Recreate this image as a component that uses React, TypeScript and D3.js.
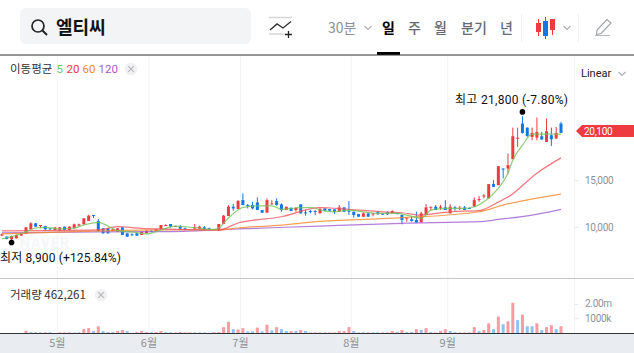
import React from "react";
import * as d3 from "d3";

const stockName = "엘티씨";
const periodTabs = [
  { t: "일", x: 382 }, { t: "주", x: 408 }, { t: "월", x: 434 }, { t: "분기", x: 461 }, { t: "년", x: 500 },
];
const monthLabels = ["5월", "6월", "7월", "8월", "9월"];
const monthStart = [12, 31, 50, 73, 93];
const priceTicks = [15000, 10000];
const lastPrice = 20100;
const volTicks = [{ v: 2000, t: "2.00m" }, { v: 1000, t: "1000k" }];

const opens = [
  9090, 8985, 8705, 8810, 9090, 9265, 9755, 10385, 10140, 10100, 9860, 9685, 9615, 10035, 9685, 9860, 10140, 10280, 10630, 11260,
  10630, 9860, 9860, 9580, 9510, 9965, 9335, 9230, 9335, 9160, 9335, 9600, 9545, 9790, 10140, 10315, 10070, 10035, 9860, 9790,
  9825, 9825, 9965, 9860, 9685, 9615, 10315, 11155, 12135, 11890, 12835, 12310, 12310, 12590, 11785, 11505, 12380, 12730, 12380, 11785,
  12030, 11785, 12380, 11540, 11680, 11680, 11435, 11960, 11890, 11855, 11610, 12065, 11715, 11610, 11365, 11085, 11435, 11330, 11540, 11400,
  11540, 11435, 11450, 11260, 10875, 10805, 10735, 10490, 11260, 12065, 12135, 12030, 12065, 11435, 12065, 11960, 12065, 12000, 12135, 12835,
  13250, 13010, 14515, 14410, 16160, 16160, 17140, 19310, 20885, 20465, 19485, 19415, 19555, 18960, 19660, 19310, 20885,
];
const closes = [
  9230, 8740, 9055, 9160, 9335, 9965, 10385, 10035, 10210, 9755, 9800, 9965, 9965, 9685, 10035, 10280, 10280, 10910, 11190, 11150,
  9580, 9335, 9335, 9755, 9860, 9160, 8985, 9160, 9090, 9510, 9615, 9500, 9755, 10210, 10210, 10035, 10105, 9825, 9685, 9685,
  9965, 10035, 9685, 9790, 9790, 10315, 11190, 12135, 11960, 12730, 12310, 12200, 11960, 11785, 11505, 12835, 12485, 12310, 11785, 12135,
  11680, 12030, 11435, 11435, 11610, 11610, 11900, 11715, 11715, 11610, 12065, 11610, 11610, 11260, 11085, 11435, 11085, 11435, 11330, 11330,
  11330, 11680, 11400, 10735, 10980, 10630, 10455, 11435, 12065, 12135, 11785, 12135, 11785, 12135, 11960, 12030, 11785, 11950, 12835, 12940,
  13315, 14515, 14235, 16405, 16055, 16510, 19555, 19400, 19905, 19590, 19905, 20010, 19205, 20080, 19240, 19905, 19905,
];
const highs = [
  9300, 9020, 9100, 9200, 9370, 10000, 10500, 10420, 10210, 10140, 9860, 10000, 10000, 10035, 10070, 10350, 10350, 10950, 11300, 11260,
  10840, 9900, 9900, 9790, 9900, 9965, 9335, 9335, 9370, 9510, 9650, 9650, 9790, 10210, 10280, 10315, 10140, 10210, 9930, 9790,
  10315, 10140, 10105, 9930, 9790, 10315, 11260, 12310, 12415, 12835, 13535, 12415, 12660, 13115, 11785, 13010, 12835, 13010, 12485, 12135,
  12030, 12030, 12380, 11785, 11785, 11785, 12100, 11960, 11890, 11855, 12310, 12065, 12730, 11610, 11365, 11540, 11435, 11435, 11680, 11435,
  11610, 11750, 11470, 11330, 10980, 11085, 11610, 11610, 12415, 12135, 12310, 12310, 12835, 12415, 12205, 12205, 12205, 12050, 13115, 13255,
  13465, 14515, 14935, 16405, 16160, 17735, 20465, 20465, 21655, 20465, 20465, 21515, 20010, 21410, 20465, 20535, 21060,
];
const lows = [
  9050, 8700, 8565, 8780, 9090, 9265, 9755, 10000, 9860, 9650, 9650, 9650, 9580, 9650, 9650, 9860, 10140, 10280, 10630, 10950,
  9550, 9300, 9300, 9545, 9510, 9160, 8950, 9090, 9055, 9160, 9335, 9450, 9545, 9685, 10140, 9930, 10035, 9755, 9650, 9650,
  9790, 9790, 9650, 9755, 9650, 9580, 10315, 11155, 11715, 11890, 12310, 11960, 11855, 11785, 11470, 11505, 12380, 12240, 11610, 11785,
  11680, 11610, 11435, 11190, 11435, 11260, 11435, 11715, 11680, 11365, 11610, 11575, 11260, 10980, 11085, 11085, 11085, 11120, 11330, 11260,
  11260, 11435, 11380, 10280, 10560, 10560, 10455, 10490, 11260, 11715, 11785, 11785, 11785, 11435, 11715, 11785, 11785, 11900, 12135, 12660,
  13010, 13010, 14235, 14410, 15110, 15635, 17140, 18435, 19835, 19485, 19135, 19135, 19205, 18960, 18540, 19310, 19905,
];

const volumes = [
  0, 0, 0, 0, 0, 150, 50, 50, 50, 50, 50, 0, 40, 40, 40, 40, 50, 260, 330, 130,
  460, 130, 60, 60, 130, 200, 130, 20, 60, 130, 60, 50, 60, 130, 60, 50, 40, 60, 40, 40,
  40, 40, 40, 10, 60, 60, 400, 770, 260, 240, 330, 110, 110, 370, 110, 570, 180, 400, 260, 130,
  130, 130, 200, 130, 40, 40, 40, 40, 40, 40, 130, 130, 400, 130, 40, 40, 40, 40, 40, 40,
  40, 130, 60, 200, 60, 60, 260, 200, 330, 60, 40, 130, 260, 130, 60, 40, 40, 40, 400, 130,
  200, 660, 260, 1120, 600, 800, 2060, 880, 1260, 460, 460, 660, 200, 400, 530, 260, 462,
];
const volumeUp = [
  1, 1, 1, 1, 1, 1, 0, 0, 0, 1, 0, 1, 1, 1, 1, 0, 0, 1, 1, 0,
  1, 0, 0, 0, 1, 1, 0, 0, 1, 1, 1, 0, 1, 1, 0, 0, 1, 1, 1, 1,
  0, 0, 0, 1, 1, 1, 1, 1, 0, 1, 1, 0, 0, 1, 0, 1, 0, 1, 0, 0,
  1, 0, 1, 0, 0, 1, 1, 0, 1, 1, 1, 1, 1, 0, 0, 0, 1, 0, 0, 1,
  1, 1, 0, 1, 0, 0, 1, 0, 1, 0, 1, 1, 1, 0, 0, 1, 1, 1, 1, 0,
  1, 1, 0, 1, 0, 1, 1, 0, 1, 0, 0, 1, 0, 1, 1, 0, 1,
];

const ma5Idx = [0, 2, 5, 7, 9, 12, 15, 17, 20, 22, 24, 27, 30, 33, 36, 40, 44, 45, 47, 49, 50, 53, 56, 58, 61, 64, 67, 69, 72, 75, 78, 82, 84, 87, 89, 92, 96, 98, 101, 103, 105, 106, 108, 110, 112, 116];
const ma5Val = [8740, 8980, 9505, 9895, 9970, 9790, 9895, 10210, 10495, 10105, 9610, 9475, 9265, 9685, 10105, 9925, 9760, 9895, 10945, 11785, 12070, 12235, 12235, 11860, 12000, 12070, 11680, 11600, 11785, 11600, 11440, 11440, 11260, 10915, 11785, 11965, 11965, 12130, 13045, 14095, 15670, 17035, 18610, 19765, 19765, 19765];
const ma20Idx = [0, 10, 20, 24, 29, 33, 45, 49, 58, 66, 72, 79, 83, 87, 89, 93, 99, 103, 105, 111, 116];
const ma20Val = [9580, 9610, 9685, 10030, 9865, 9790, 9685, 10420, 11080, 12050, 11860, 11605, 11500, 11260, 11365, 11605, 11730, 12625, 13150, 15670, 17275];
const ma60Idx = [0, 20, 33, 45, 49, 58, 66, 83, 99, 104, 116];
const ma60Val = [9265, 9580, 9685, 9685, 9895, 10210, 10580, 10975, 11605, 12310, 13465];
const ma120Idx = [0, 20, 33, 49, 66, 83, 99, 103, 110, 116];
const ma120Val = [9370, 9475, 9505, 9790, 10105, 10390, 10555, 10790, 11260, 11860];

const maxIndex = 108;
const minIndex = 2;

const RED = "#ee3b40";
const BLUE = "#1177e8";
const KR = "'Noto Sans CJK KR','Noto Sans',sans-serif";
const NUM = "Roboto,'Noto Sans CJK KR',sans-serif";
const GRAY = "#8c9098";

const x = d3.scaleLinear().domain([0, 116]).range([1.9, 561]);
const y = d3.scaleLinear().domain([10000, 20000]).range([227, 132]);
const yVol = d3.scaleLinear().domain([0, 2000]).range([333, 303.7]);

const maLine = (idx: number[], val: number[]) =>
  d3.line<number>().x((d) => x(d)).y((_, i) => y(val[i])).curve(d3.curveMonotoneX)(idx) ?? "";

const maSeries = [
  { idx: ma120Idx, val: ma120Val, c: "#a05fd0" },
  { idx: ma60Idx, val: ma60Val, c: "#f58a2a" },
  { idx: ma20Idx, val: ma20Val, c: "#f0545c" },
  { idx: ma5Idx, val: ma5Val, c: "#72c35a" },
];

const Chevron = ({ cx, cy }: { cx: number; cy: number }) => (
  <path d={`M${cx - 3.5} ${cy - 2}L${cx} ${cy + 1.5}L${cx + 3.5} ${cy - 2}`} fill="none" stroke="#a9adb3" strokeWidth={1.1} />
);
const Close = ({ cx, cy }: { cx: number; cy: number }) => (
  <g>
    <circle cx={cx} cy={cy} r={6.3} fill="#f1f1f2" />
    <path d={`M${cx - 2.8} ${cy - 2.8}L${cx + 2.8} ${cy + 2.8}M${cx + 2.8} ${cy - 2.8}L${cx - 2.8} ${cy + 2.8}`} stroke="#b5b7bb" strokeWidth={1.2} />
  </g>
);

export default function App() {
  return (
    <svg width={634} height={353} style={{ position: "absolute", left: 0, top: 0, background: "#fff" }}>
      {/* header */}
      <rect x={20} y={8} width={231} height={36} rx={6} fill="#f3f4f6" />
      <circle cx={38} cy={26} r={6} fill="none" stroke="#222" strokeWidth={1.7} />
      <path d="M42.5 30.5L47 35" stroke="#222" strokeWidth={1.9} />
      <text x={56} y={34} fontFamily={KR} fontWeight={700} fontSize={18} fill="#111">{stockName}</text>
      <path d="M269 17.5H292M269 34H285" stroke="#d5d6d8" strokeWidth={1.4} />
      <path d="M270 30L277 24L283 28L291 21.5" fill="none" stroke="#333" strokeWidth={1.4} />
      <path d="M285 34.5H292M288.5 31V38" stroke="#222" strokeWidth={1.3} />
      <text x={328} y={33} fontFamily={KR} fontSize={14} fill={GRAY}>30분</text>
      <Chevron cx={368} cy={28} />
      {periodTabs.map((p, i) => (
        <text key={p.t} x={p.x} y={33} fontFamily={KR} fontSize={14} fontWeight={i === 0 ? 700 : 500} fill={i === 0 ? "#000" : "#666b72"}>{p.t}</text>
      ))}
      <rect x={377} y={52} width={23} height={3} fill="#000" />
      <path d="M521.5 14V42M578.5 14V42" stroke="#f0f1f3" />
      <path d="M538.5 19V36" stroke={RED} /><rect x={536} y={23} width={5} height={9} fill={RED} />
      <path d="M545.5 17V39" stroke={BLUE} /><rect x={543} y={21} width={5} height={15} fill={BLUE} />
      <path d="M552.5 19V35" stroke={RED} /><rect x={550} y={19} width={5} height={11} fill={RED} />
      <Chevron cx={567} cy={28} />
      <path d="M597 30L607 19.5L611 23L601 33.5L596.5 34.5Z" fill="none" stroke="#9da1a7" strokeWidth={1.1} />
      <path d="M595 35.5H610" stroke="#b6b9bd" strokeWidth={1.1} />
      <path d="M0 55H634" stroke="#333" strokeWidth={1.2} />

      {/* grid */}
      {monthStart.map((m) => (
        <path key={m} d={`M${x(m - 0.5)} 56V333`} stroke="#f0f2f6" />
      ))}
      <path d="M574.5 56V333" stroke="#f0f2f6" />
      {[...priceTicks.map((t) => y(t)), ...volTicks.map((t) => yVol(t.v))].map((p) => (
        <path key={p} d={`M575 ${Math.round(p) + 0.5}H578`} stroke="#e6e8ec" />
      ))}
      <text x={20} y={248} fontFamily={NUM} fontWeight={700} fontSize={14} letterSpacing={1} fill="#f5f6f8">NAVER</text>

      {/* volume */}
      {volumes.map((v, i) =>
        v > 0 ? (
          <rect key={i} x={x(i) - 1.5} y={yVol(v)} width={3} height={333 - yVol(v)} fill={volumeUp[i] ? "#f79ca2" : "#90c0f5"} />
        ) : null
      )}

      {/* candles */}
      {opens.map((o, i) => {
        const c = closes[i];
        const col = c >= o ? RED : BLUE;
        const top = y(Math.max(o, c));
        const h = Math.max(1, Math.abs(y(o) - y(c)));
        return (
          <g key={i}>
            <line x1={x(i)} x2={x(i)} y1={y(highs[i])} y2={y(lows[i])} stroke={col} strokeWidth={1} />
            <rect x={x(i) - 1.5} y={top} width={3} height={h} fill={col} />
          </g>
        );
      })}
      {maSeries.map((s) => (
        <path key={s.c} d={maLine(s.idx, s.val)} fill="none" stroke={s.c} strokeWidth={1.25} strokeOpacity={0.8} />
      ))}

      {/* extremes */}
      <circle cx={x(maxIndex)} cy={y(21800) - 3} r={2.8} fill="#000" />
      <circle cx={x(minIndex)} cy={y(8900) + 5} r={2.8} fill="#000" />
      <text x={455} y={104} fontFamily={NUM} fontSize={12} letterSpacing={0.3} fill="#111">최고 21,800 (-7.80%)</text>
      <text x={0} y={262} fontFamily={NUM} fontSize={12} letterSpacing={0.15} fill="#111">최저 8,900 (+125.84%)</text>

      {/* legend */}
      <text x={10} y={73} fontFamily={KR} fontSize={11.5} fill="#333">이동평균</text>
      <text x={56.5} y={73} fontFamily={NUM} fontSize={11.5} fill="#72c35a">5</text>
      <text x={66.5} y={73} fontFamily={NUM} fontSize={11.5} fill={RED}>20</text>
      <text x={82.5} y={73} fontFamily={NUM} fontSize={11.5} fill="#f58a2a">60</text>
      <text x={98.5} y={73} fontFamily={NUM} fontSize={11.5} fill="#a05fd0">120</text>
      <Close cx={131} cy={69} />

      {/* right axis */}
      <text x={581} y={77} fontFamily={NUM} fontSize={11} fill="#222">Linear</text>
      <Chevron cx={622} cy={74} />
      <path d={`M576 ${y(lastPrice)}L582 ${y(lastPrice) - 6}H634V${y(lastPrice) + 6}H582Z`} fill={RED} />
      <text x={584} y={y(lastPrice) + 3.5} fontFamily={NUM} fontSize={10} letterSpacing={-0.3} fill="#fff">{d3.format(",")(lastPrice)}</text>
      {priceTicks.map((t) => (
        <text key={t} x={585} y={y(t) + 4} fontFamily={NUM} fontSize={10} letterSpacing={-0.3} fill={GRAY}>{d3.format(",")(t)}</text>
      ))}

      {/* volume pane */}
      <path d="M0 278.5H634" stroke="#c6c7c9" />
      <text x={10} y={299} fontFamily={KR} fontSize={11.5} fill="#333">거래량 462,261</text>
      <Close cx={101} cy={295} />
      {volTicks.map((t) => (
        <text key={t.t} x={585} y={yVol(t.v) + 3.5} fontFamily={NUM} fontSize={10} letterSpacing={-0.3} fill={GRAY}>{t.t}</text>
      ))}

      {/* time axis */}
      <rect x={0} y={333} width={634} height={20} fill="#e9ecf1" />
      <path d="M0 333.5H634" stroke="#333" strokeWidth={1.2} />
      {monthLabels.map((m, i) => (
        <text key={m} x={x(monthStart[i] - 0.5)} y={347} textAnchor="middle" fontFamily={KR} fontSize={11} fill={GRAY}>{m}</text>
      ))}
    </svg>
  );
}
